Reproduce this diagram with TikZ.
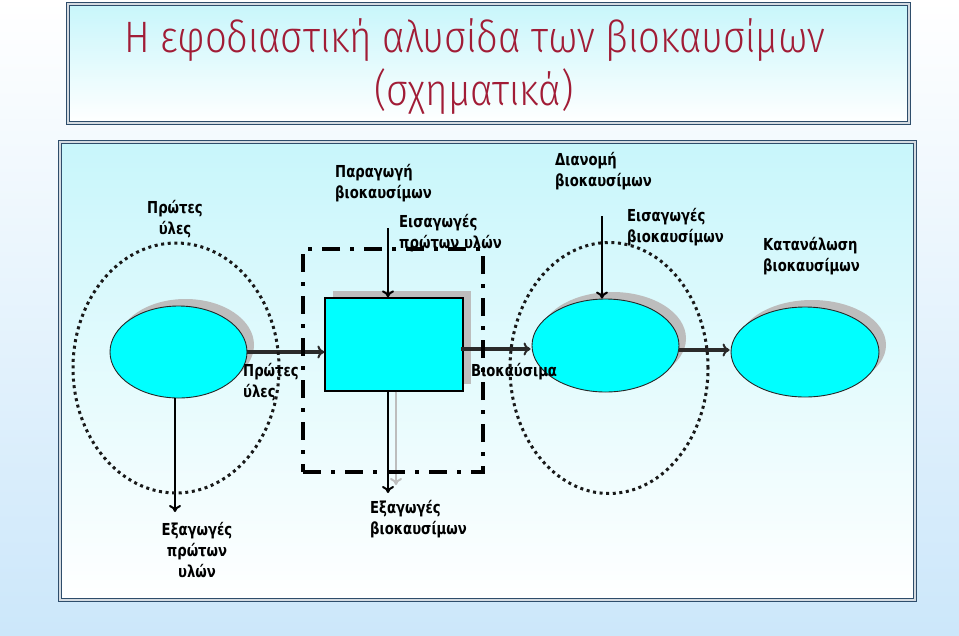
\documentclass[tikz,border=0pt]{standalone}
\usepackage{fontspec}
\setmainfont{Liberation Sans}
\newfontfamily\lblfont{DejaVu Sans Bold}
\newfontfamily\titlefont{Fira Sans}[UprightFont=* Light]
\usetikzlibrary{arrows.meta,shapes.geometric,shadows}
\definecolor{bgblue}{HTML}{CCE7FA}
\definecolor{boxtop}{HTML}{C8F6FB}
\definecolor{frame}{HTML}{2E4D6B}
\definecolor{titlered}{HTML}{A11C36}
\definecolor{shadowgray}{HTML}{BDBDBD}
\definecolor{arrowgray}{HTML}{2A2A2A}
\definecolor{aqua}{RGB}{0,255,255}
\newcommand{\lbtext}[2][l]{\scalebox{0.8}[1]{\begin{tabular}{@{}#1@{}}#2\end{tabular}}}
\tikzset{
  panel/.style={draw=frame, double=white!80!frame, double distance=1.4pt, line width=0.9pt, top color=boxtop, bottom color=white},
  blob/.style={ellipse, draw=black!85, line width=0.9pt, fill=aqua, inner sep=0pt},
  boxshape/.style={rectangle, draw=black, line width=1.2pt, fill=aqua, inner sep=0pt},
  gshadow/.style={drop shadow={shadow xshift=7pt, shadow yshift=7pt, fill=shadowgray, opacity=1}},
  dotring/.style={ellipse, draw=black!90, line width=3pt, dash pattern=on 3pt off 3.6pt, inner sep=0pt},
  dashdot/.style={rectangle, draw=black, line width=3.8pt, dash pattern=on 18pt off 10pt on 4pt off 10pt, inner sep=0pt},
  flow/.style={draw=arrowgray, line width=3.2pt, -{To[length=7pt,width=13pt,line width=2pt]}},
  feed/.style={draw=black, line width=2.6pt, -{To[length=7pt,width=12pt,line width=2pt]}},
  lbl/.style={font=\lblfont\fontsize{16.5}{21}\selectfont, inner sep=0pt, text=black},
}
\begin{document}
\begin{tikzpicture}[x=1pt,y=-1pt]
\useasboundingbox (0,0) rectangle (959,635);
\shade[top color=white, bottom color=bgblue] (0,0) rectangle (959,635);
% title panel
\path[panel] (68,4) rectangle (909,123);
\node[text=titlered, inner sep=0pt] (title1) at (475,40) {\titlefont\fontsize{44}{50}\selectfont\scalebox{0.87}[1]{Η εφοδιαστική αλυσίδα των βιοκαυσίμων}};
\node[text=titlered, inner sep=0pt] (title2) at (474,92) {\titlefont\fontsize{44}{50}\selectfont\scalebox{0.87}[1]{(σχηματικά)}};
% main panel
\path[panel] (60,142) rectangle (915,600);
% shapes
\node[blob, gshadow, minimum width=137pt, minimum height=92pt] (e1) at (178.5,352) {};
\node[boxshape, drop shadow={shadow xshift=8pt, shadow yshift=7pt, fill=shadowgray, opacity=1}, minimum width=138pt, minimum height=93pt] (prod) at (394,344.5) {};
\node[blob, gshadow, minimum width=147pt, minimum height=93pt] (e2) at (605.5,345.5) {};
\node[blob, gshadow, minimum width=148pt, minimum height=90pt] (e3) at (805,352) {};
% coordinates
\coordinate (inA) at (388,228);
\coordinate (inB) at (602,216);
\coordinate (outA) at (175,512);
\coordinate (outB) at (388,493);
\coordinate (outBs) at (396,485);
\coordinate (srcB) at (461,349);
% arrows
\draw[flow] (e1.east) -- (e1.east -| prod.west);
\draw[flow] (srcB) -- ([xshift=-1pt]srcB -| e2.west);
\draw[flow] (e2.east |- 0,350) -- ([xshift=-1pt]e3.west |- 0,350);
\draw[feed] (inA) -- (inA |- prod.north);
\draw[feed] (inB) -- (inB |- e2.north);
\draw[feed] (outA |- e1.south) -- (outA);
\draw[draw=shadowgray, line width=2.4pt, -{To[length=7pt,width=12pt,line width=2pt]}] (outBs |- prod.south) -- (outBs);
\draw[feed] (outB |- prod.south) -- (outB);
% frames
\node[dashdot, minimum width=180pt, minimum height=223pt] (plant) at (393,360.5) {};
\node[dotring, minimum width=206pt, minimum height=250pt] (ring1) at (176,368) {};
\node[dotring, minimum width=198pt, minimum height=251pt] (ring2) at (609,368) {};
% labels
\node[lbl] (l1) at (175,220) {\lbtext[c]{Πρώτες\\ύλες}};
\node[lbl, anchor=west] (l2) at (335,184) {\lbtext{Παραγωγή\\βιοκαυσίμων}};
\node[lbl, anchor=west] (l3) at (399,233.5) {\lbtext{Εισαγωγές\\πρώτων υλών}};
\node[lbl, anchor=west] (l4) at (555,171.5) {\lbtext{Διανομή\\βιοκαυσίμων}};
\node[lbl, anchor=west] (l5) at (627,228) {\lbtext{Εισαγωγές\\βιοκαυσίμων}};
\node[lbl, anchor=west] (l6) at (763,257) {\lbtext{Κατανάλωση\\βιοκαυσίμων}};
\node[lbl, anchor=west] (l7) at (243,383) {\lbtext{Πρώτες\\ύλες}};
\node[lbl, anchor=west] (l8) at (471,372) {\lbtext{Βιοκαύσιμα}};
\node[lbl] (l9) at (197,552) {\lbtext[c]{Εξαγωγές\\πρώτων\\υλών}};
\node[lbl, anchor=west] (l10) at (370,519.5) {\lbtext{Εξαγωγές\\βιοκαυσίμων}};
\end{tikzpicture}
\end{document}
